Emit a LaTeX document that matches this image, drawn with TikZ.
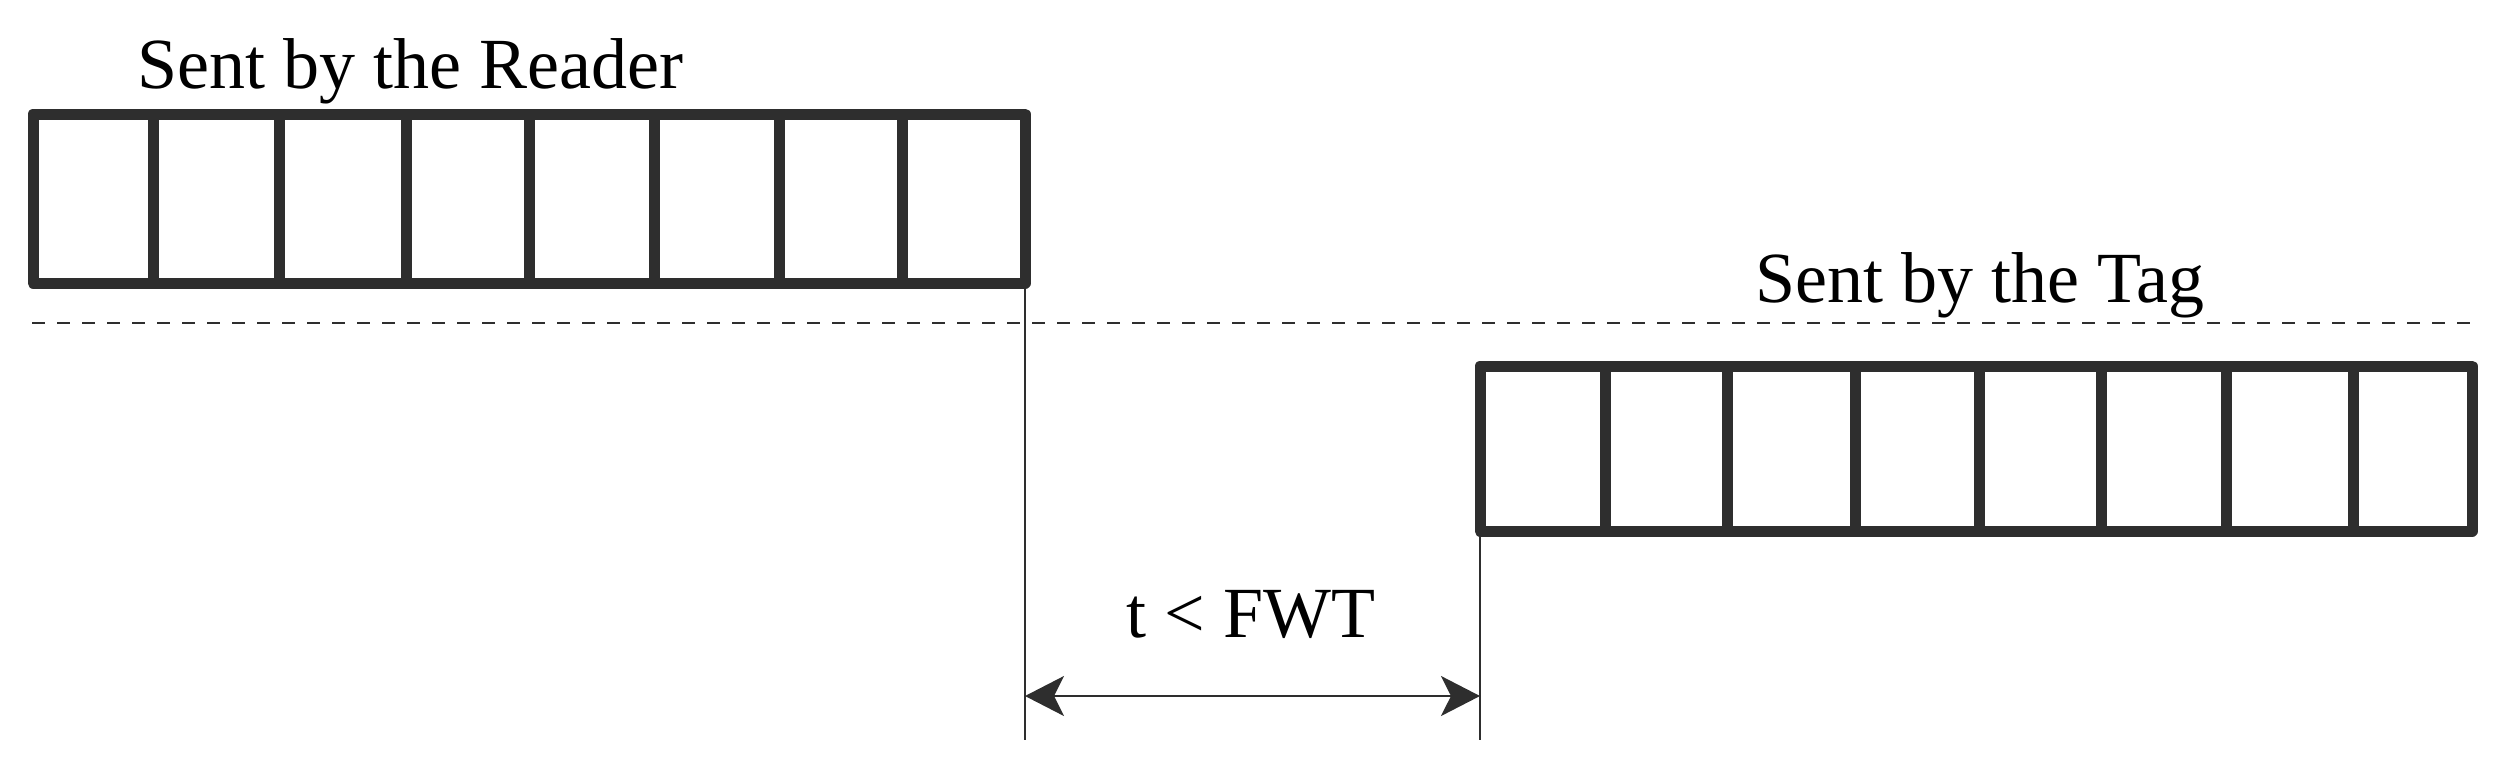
\documentclass[tikz,border=0pt]{standalone}
\usepackage{fontspec}
\setmainfont{Liberation Serif}
\usetikzlibrary{arrows.meta}
\definecolor{ink}{HTML}{2E2E2E}
\begin{document}
\begin{tikzpicture}[x=0.25pt,y=-0.25pt,
  frame/.style={draw=ink,line width=2.75pt,line join=round,inner sep=0pt,outer sep=0pt},
  divider/.style={draw=ink,line width=2.75pt},
  guide/.style={draw=ink,line width=0.5pt},
  sep/.style={draw=ink,line width=0.5pt,dash pattern=on 3.25pt off 3pt},
  dim/.style={draw=ink,line width=0.5pt,{Stealth[length=9.75pt,width=10pt,inset=2.5pt]}-{Stealth[length=9.75pt,width=10pt,inset=2.5pt]}},
  label/.style={font=\fontsize{18pt}{21pt}\selectfont,anchor=base,inner sep=0pt}]
\useasboundingbox (0,0) rectangle (2507,773);
% frames
\node[frame,minimum width=248pt,minimum height=42.25pt] (reader) at (529,198.5) {};
\node[frame,minimum width=248pt,minimum height=41.25pt] (tag) at (1976,448.5) {};
\foreach \x in {153,279,406,529,654,779,902}
  \draw[divider] (\x,114) -- (\x,283);
\foreach \x in {1605,1727,1855,1979,2101,2226,2353}
  \draw[divider] (\x,366) -- (\x,531);
% labels
\node[label] (lr) at (410,88) {Sent by the Reader};
\node[label] (lt) at (1980,302) {Sent by the Tag};
\node[label] (lf) at (1251,637) {t < FWT};
% separator
\coordinate (sl) at (32,323);
\coordinate (sr) at (2473,323);
\draw[sep] (sl) -- (sr);
% guides
\coordinate (rb) at (1025,740);
\coordinate (tb) at (1480,740);
\draw[guide] (reader.south east) -- (rb);
\draw[guide] (tag.south west) -- (tb);
\coordinate (a1) at (1025,696);
\coordinate (a2) at (1480,696);
\draw[dim] (a1) -- (a2);
\end{tikzpicture}
\end{document}
